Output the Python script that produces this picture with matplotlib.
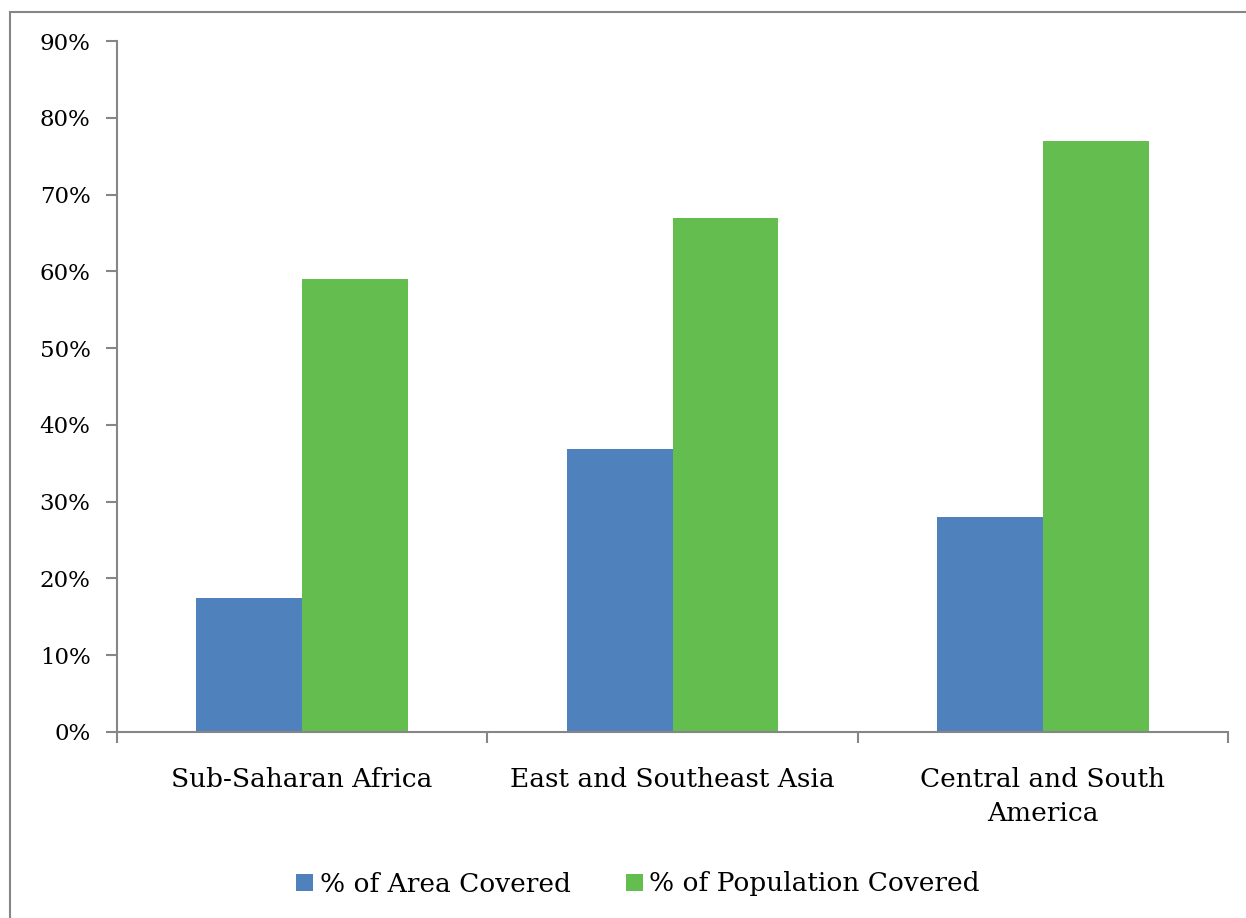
import matplotlib.pyplot as plt
import numpy as np
from matplotlib.patches import Rectangle
from matplotlib.ticker import PercentFormatter

# data
regions = ["Sub-Saharan Africa", "East and Southeast Asia", "Central and South\nAmerica"]
area_covered = [17.4, 36.8, 28.0]
population_covered = [59.0, 67.0, 77.0]

plt.rcParams['font.family'] = ['DejaVu Serif']
grey = '#868686'

fig = plt.figure(figsize=(12.46, 9.18), dpi=100)
ax = fig.add_axes([117/1246, 1 - 732/918, (1228-117)/1246, (732-41)/918])

# outer frame (left and top edges visible)
fig.patches.append(Rectangle((10/1246, -0.01), 1.1, 1 - 12/918 + 0.01, transform=fig.transFigure,
                             fill=False, edgecolor=grey, linewidth=1.5))

index = np.arange(len(regions))
w = 0.286
ax.bar(index - w/2, area_covered, w, color='#4F81BD', label='% of Area Covered')
ax.bar(index + w/2, population_covered, w, color='#64BD4F', label='% of Population Covered')

ax.set_xlim(-0.5, 2.5)
ax.set_ylim(0, 90)
ax.set_yticks(np.arange(0, 91, 10))
ax.yaxis.set_major_formatter(PercentFormatter(decimals=0))
ax.set_xticks(index)
ax.set_xticklabels(regions, fontsize=19, linespacing=1.45)
ax.set_xticks([-0.5, 0.5, 1.5, 2.5], minor=True)
ax.tick_params(axis='x', which='major', length=0, pad=25)
ax.tick_params(axis='x', which='minor', length=8, color=grey, width=1.5)
ax.tick_params(axis='y', length=8, color=grey, width=1.5, labelsize=16.5, pad=11)

for s in ['top', 'right']:
    ax.spines[s].set_visible(False)
for s in ['left', 'bottom']:
    ax.spines[s].set_color(grey)
    ax.spines[s].set_linewidth(1.5)

fig.legend(loc='center', bbox_to_anchor=(638/1246, 1 - 884/918), ncol=2, frameon=False,
           fontsize=19, handlelength=0.63, handleheight=0.63, handletextpad=0.25, columnspacing=2.1)

fig.savefig('out.png', dpi=100)
